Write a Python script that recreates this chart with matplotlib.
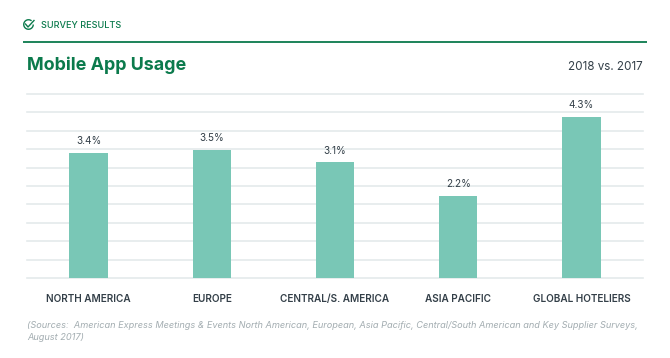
import matplotlib
matplotlib.use('Agg')
import matplotlib.pyplot as plt
from matplotlib.patches import Arc

W, H = 670, 358

categories = ['NORTH AMERICA', 'EUROPE', 'CENTRAL/S. AMERICA', 'ASIA PACIFIC', 'GLOBAL HOTELIERS']
bar_heights = [3.4, 3.47, 3.14, 2.22, 4.37]
value_labels = ['3.4%', '3.5%', '3.1%', '2.2%', '4.3%']
grid_values = [0, 0.5, 1, 1.5, 2, 2.5, 3, 3.5, 4, 4.5, 5]

GREEN = '#0b7a4c'
TEAL = '#79c7b6'
GRID = '#e4eaeb'
DARK = '#333f48'
GREY = '#a3adb1'

plt.rcParams['font.family'] = ['Inter', 'DejaVu Sans']

fig = plt.figure(figsize=(W / 100, H / 100), dpi=100, facecolor='white')

# overlay in pixel coordinates for the header and the footer
bg = fig.add_axes([0, 0, 1, 1])
bg.set_xlim(0, W)
bg.set_ylim(H, 0)
bg.axis('off')

bg.plot([23, 647], [42, 42], color=GREEN, lw=1.3, solid_capstyle='butt')
bg.add_patch(Arc((28.5, 24.5), 9.5, 9.5, theta1=0, theta2=310, color=GREEN, lw=1.0))
bg.plot([25.5, 28, 34], [24, 27, 20.5], color=GREEN, lw=1.0)
bg.text(41, 25.5, 'SURVEY RESULTS', color=GREEN, fontsize=6.6, va='center', ha='left', fontweight='medium')
bg.text(27, 65, 'Mobile App Usage', color=GREEN, fontsize=12.9, va='center', ha='left', fontweight='bold')
bg.text(643, 67.5, '2018 vs. 2017', color=DARK, fontsize=8.4, va='center', ha='right')
bg.text(27, 326, '(Sources:  American Express Meetings & Events North American, European, Asia Pacific, '
        'Central/South American and Key Supplier Surveys,', color=GREY, fontsize=6.62, style='italic', va='center')
bg.text(27, 337.5, 'August 2017)', color=GREY, fontsize=6.62, style='italic', va='center')

ax = fig.add_axes([27 / W, 1 - 278 / H, 616 / W, 184 / H])
ax.patch.set_alpha(0)
ax.set_xlim(-0.5, 4.5)
ax.set_ylim(0, 5)
for s in ax.spines.values():
    s.set_visible(False)
ax.set_yticks(grid_values)
ax.tick_params(axis='both', length=0)
ax.set_yticklabels([])
ax.grid(axis='y', color=GRID, lw=1.2, zorder=0, clip_on=False)
ax.set_axisbelow(True)

ax.bar(range(len(categories)), bar_heights, width=0.312, color=TEAL, zorder=2)
for i, h in enumerate(bar_heights):
    ax.annotate(value_labels[i], (i, h), xytext=(0, 5), textcoords='offset points', ha='center', va='bottom',
                color=DARK, fontsize=7.2, annotation_clip=False)

ax.set_xticks(range(len(categories)))
ax.set_xticklabels(categories, color=DARK, fontsize=7.2, fontweight='semibold')
ax.tick_params(axis='x', pad=11.5)

fig.savefig('out.png', dpi=100)
